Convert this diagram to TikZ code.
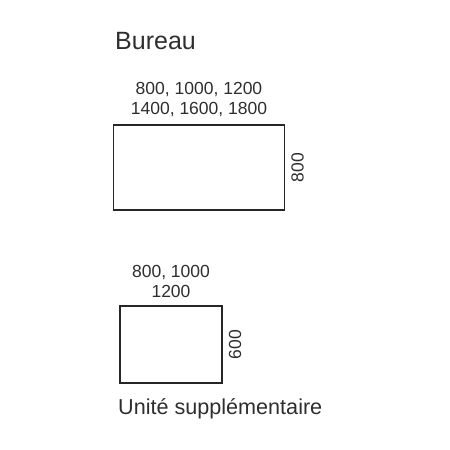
\documentclass[tikz,border=0pt]{standalone}
\usepackage{fontspec}
\setmainfont{Liberation Sans}
\usetikzlibrary{positioning}
\definecolor{ink}{HTML}{2E2E2E}

\begin{document}
\begin{tikzpicture}[x=1pt,y=-1pt]
    \tikzstyle{desk}=[draw=black!85, line width=1.3pt, inner sep=0pt]
    \tikzstyle{size}=[text=ink, font=\fontsize{17.5}{20}\selectfont, align=center, inner sep=0pt]
    \tikzstyle{caption}=[text=ink, font=\fontsize{25}{28}\selectfont, inner sep=0pt]
    \useasboundingbox (0,0) rectangle (450,450);

    % Main desk
    \node[caption, anchor=base west] (title) at (115,49) {Bureau};
    \node[desk, minimum width=171pt, minimum height=85pt] (B) at (199,167.5) {};
    \node[size, above=7pt of B] (Bw) {800, 1000, 1200\\1400, 1600, 1800};
    \node[size, rotate=90, anchor=north] (Bd) at ([xshift=6pt]B.east) {800};

    % Extra unit
    \node[desk, minimum width=102pt, minimum height=77pt] (U) at (171,344.5) {};
    \node[size, above=7pt of U] (Uw) {800, 1000\\1200};
    \node[size, rotate=90, anchor=north] (Ud) at ([xshift=6pt]U.east) {600};
    \node[caption, font=\fontsize{21.6}{24}\selectfont, anchor=base west] (extra) at (118,414) {Unité supplémentaire};
\end{tikzpicture}
\end{document}
